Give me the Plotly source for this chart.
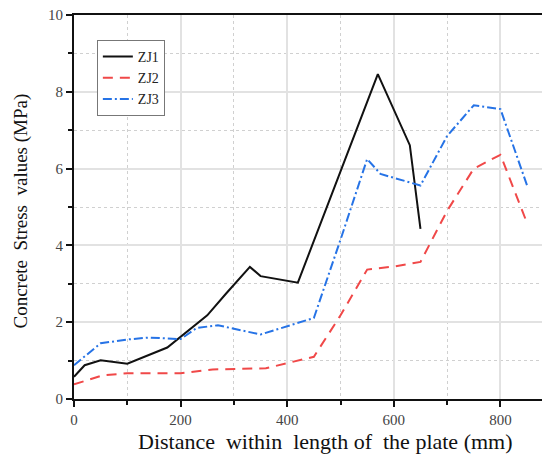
import plotly.graph_objects as go

zj1_x = [0, 20, 50, 100, 175, 200, 250, 285, 330, 350, 380, 420, 500, 570, 630, 650]
zj1_y = [0.58, 0.88, 1.01, 0.92, 1.34, 1.62, 2.18, 2.74, 3.44, 3.20, 3.12, 3.03, 5.93, 8.46, 6.61, 4.43]

zj2_x = [0, 55, 100, 200, 260, 360, 450, 500, 550, 600, 650, 700, 750, 800, 850]
zj2_y = [0.38, 0.62, 0.67, 0.67, 0.77, 0.80, 1.10, 2.18, 3.37, 3.45, 3.57, 4.90, 6.00, 6.36, 4.58]

zj3_x = [0, 50, 100, 140, 200, 230, 270, 350, 380, 450, 500, 550, 575, 650, 700, 750, 800, 850]
zj3_y = [0.88, 1.45, 1.55, 1.60, 1.56, 1.85, 1.92, 1.68, 1.81, 2.11, 4.15, 6.25, 5.86, 5.56, 6.85, 7.65, 7.55, 5.56]

x_ticks = [0, 200, 400, 600, 800]
y_ticks = [0, 2, 4, 6, 8, 10]

font_family = "Liberation Serif"

fig = go.Figure()
fig.add_trace(go.Scatter(x=zj1_x, y=zj1_y, mode="lines", name="ZJ1",
                         line=dict(color="#111111", width=2)))
fig.add_trace(go.Scatter(x=zj2_x, y=zj2_y, mode="lines", name="ZJ2",
                         line=dict(color="#f04848", width=2, dash="10px,7px")))
fig.add_trace(go.Scatter(x=zj3_x, y=zj3_y, mode="lines", name="ZJ3",
                         line=dict(color="#2673e6", width=2, dash="9px,3px,2px,3px")))

axis_common = dict(
    showline=True, linecolor="#111111", linewidth=2,
    ticks="outside", ticklen=6, tickwidth=2, tickcolor="#111111",
    showgrid=True, gridcolor="#e2e2e2", gridwidth=1.5,
    zeroline=False, automargin=False, ticklabeloverflow="allow",
    tickfont=dict(family=font_family, size=15, color="#444444"),
)

fig.update_xaxes(
    **axis_common,
    range=[0, 893], tickvals=x_ticks, ticktext=[str(v) for v in x_ticks],
    mirror=True,
    minor=dict(tickvals=[100, 300, 500, 700], ticks="outside", ticklen=4,
               tickwidth=1.5, tickcolor="#111111", showgrid=True,
               gridcolor="#d0d0d0", gridwidth=1, griddash="dot"),
)
fig.update_yaxes(
    **axis_common,
    range=[0, 10], tickvals=y_ticks, ticktext=[str(v) for v in y_ticks],
    minor=dict(tickvals=[1, 3, 5, 7, 9], ticks="outside", ticklen=4,
               tickwidth=1.5, tickcolor="#111111", showgrid=True,
               gridcolor="#d0d0d0", gridwidth=1, griddash="dot"),
)

fig.add_annotation(
    text="Distance  within  length of  the plate (mm)",
    xref="paper", yref="paper", x=0.529, y=-0.072,
    xanchor="center", yanchor="top", showarrow=False,
    font=dict(family=font_family, size=22, color="#111111"),
)
fig.add_annotation(
    text="Concrete  Stress  values (MPa)",
    xref="paper", yref="paper", x=-0.112, y=0.49,
    xanchor="center", yanchor="middle", showarrow=False, textangle=-90,
    font=dict(family=font_family, size=19, color="#111111"),
)

fig.update_layout(
    width=550, height=457,
    margin=dict(l=66, r=8, t=7, b=66),
    paper_bgcolor="white", plot_bgcolor="white",
    showlegend=True,
    legend=dict(x=0.048, y=0.935, xanchor="left", yanchor="top",
                bgcolor="white", bordercolor="#777777", borderwidth=1,
                font=dict(family=font_family, size=14, color="#222222"),
                tracegroupgap=0, itemwidth=30),
    font=dict(family=font_family),
)

fig.write_html("out.html")
